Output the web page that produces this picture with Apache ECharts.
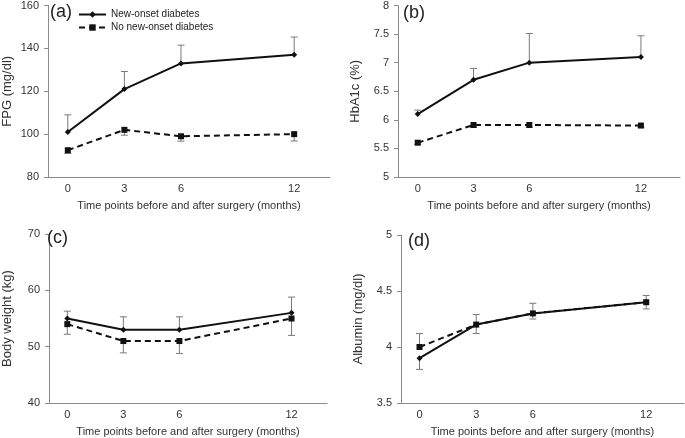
<!DOCTYPE html>
<html><head><meta charset="utf-8">
<script src="https://cdn.jsdelivr.net/npm/echarts@6/dist/echarts.min.js"></script>
<style>html,body{margin:0;padding:0;background:#fff}#c{width:685px;height:438px}</style>
</head><body><div id="c"></div><script>
// x positions (months) and tick labels
const months = [0, 3, 6, 12];
const xTickValues = [0, 3, 6, 12];
const xTitle = 'Time points before and after surgery (months)';
const seriesNames = ['New-onset diabetes', 'No new-onset diabetes'];

// (a) FPG (mg/dl)
const fpgNew = [101, 121, 133, 137];
const fpgNewErr = [109, 129.2, 141.5, 145.3];
const fpgNo = [92.5, 102, 99, 100];
const fpgNoErr = [91, 99.5, 96.7, 96.8];

// (b) HbA1c (%)
const hbNew = [6.1, 6.7, 7.0, 7.1];
const hbNewErr = [6.17, 6.9, 7.51, 7.47];
const hbNo = [5.6, 5.91, 5.91, 5.9];
const hbNoErr = [5.57, 5.87, 5.87, 5.87];

// (c) Body weight (kg)
const bwNew = [55, 53, 53, 56];
const bwNewErr = [56.3, 55.3, 55.3, 58.8];
const bwNo = [54, 51, 51, 55];
const bwNoErr = [52.2, 48.9, 48.8, 52];

// (d) Albumin (mg/dl)
const alNew = [3.9, 4.2, 4.3, 4.4];
const alNewErr = [3.8, 4.12, 4.25, 4.34];
const alNo = [4.0, 4.2, 4.3, 4.4];
const alNoErr = [4.12, 4.29, 4.39, 4.46];

const panels = [
  {label:'(a)', yName:'FPG (mg/dl)', yMin:80, yMax:160, yInt:20, xMin:-1.05, xMax:13.9,
   grid:{left:42, top:4, width:288, height:173}, nw:fpgNew, nwE:fpgNewErr, no:fpgNo, noE:fpgNoErr},
  {label:'(b)', yName:'HbA1c (%)', yMin:5, yMax:8, yInt:0.5, xMin:-1.06, xMax:14.1,
   grid:{left:398, top:5, width:282, height:172}, nw:hbNew, nwE:hbNewErr, no:hbNo, noE:hbNoErr},
  {label:'(c)', yName:'Body weight (kg)', yMin:40, yMax:70, yInt:10, xMin:-0.98, xMax:13.9,
   grid:{left:43, top:234, width:284, height:173}, nw:bwNew, nwE:bwNewErr, no:bwNo, noE:bwNoErr},
  {label:'(d)', yName:'Albumin (mg/dl)', yMin:3.5, yMax:5, yInt:0.5, xMin:-0.98, xMax:14.0,
   grid:{left:401, top:235, width:283, height:173}, nw:alNew, nwE:alNewErr, no:alNo, noE:alNoErr}
];

const FONT = 'Liberation Sans, Arial, sans-serif';
const axisGray = '#8a8a8a';
const errGray = '#7a7a7a';

function errorSeries(idx, vals, bounds) {
  return {
    type:'custom', xAxisIndex:idx, yAxisIndex:idx, z:1, silent:true,
    encode:{x:0, y:[1,2]},
    data: months.map((m,i)=>[m, vals[i], bounds[i]]),
    renderItem(params, api) {
      const x = api.value(0);
      const p1 = api.coord([x, api.value(1)]);
      const p2 = api.coord([x, api.value(2)]);
      const w = 3.5;
      const st = {stroke:errGray, lineWidth:1};
      return {type:'group', children:[
        {type:'line', shape:{x1:p1[0], y1:p1[1], x2:p2[0], y2:p2[1]}, style:st},
        {type:'line', shape:{x1:p2[0]-w, y1:p2[1], x2:p2[0]+w, y2:p2[1]}, style:st}
      ]};
    }
  };
}

const option = {
  animation:false,
  textStyle:{fontFamily:FONT},
  title: panels.map((p,i)=>({
    text:p.label, padding:0,
    left: [50, 403, 47, 408][i], top: [3, 4, 229, 232][i],
    textStyle:{fontSize:18, fontWeight:'normal', color:'#222', fontFamily:FONT}
  })),
  legend:{
    orient:'vertical', left:78, top:9, padding:0, itemWidth:27, itemHeight:8, itemGap:2,
    data:seriesNames,
    textStyle:{fontSize:10, color:'#222', lineHeight:11, fontFamily:FONT}
  },
  grid: panels.map(p=>Object.assign({containLabel:false}, p.grid)),
  xAxis: panels.map((p,i)=>({
    type:'value', gridIndex:i, min:p.xMin, max:p.xMax,
    name:xTitle, nameLocation:'middle', nameGap:23,
    nameTextStyle:{fontSize:11, color:'#333', fontFamily:FONT},
    axisLine:{onZero:false, lineStyle:{color:axisGray, width:1}},
    axisTick:{show:false},
    splitLine:{show:false},
    axisLabel:{customValues:xTickValues, fontSize:11, color:'#333', margin:6, fontFamily:FONT}
  })),
  yAxis: panels.map((p,i)=>({
    type:'value', gridIndex:i, min:p.yMin, max:p.yMax, interval:p.yInt,
    name:p.yName, nameLocation:'middle', nameGap:[34,36,35,36][i],
    nameTextStyle:{fontSize:13, color:'#333', fontFamily:FONT},
    axisLine:{show:true, onZero:false, lineStyle:{color:axisGray, width:1}},
    axisTick:{show:true, inside:false, length:4, lineStyle:{color:axisGray}},
    splitLine:{show:false},
    axisLabel:{fontSize:11, color:'#333', margin:9, fontFamily:FONT}
  })),
  series: []
};

panels.forEach((p,i)=>{
  option.series.push(errorSeries(i, p.no, p.noE));
  option.series.push(errorSeries(i, p.nw, p.nwE));
  option.series.push({
    type:'line', name:seriesNames[1], xAxisIndex:i, yAxisIndex:i, z:3,
    data: months.map((m,k)=>[m, p.no[k]]),
    symbol:'rect', symbolSize:6, showSymbol:true,
    lineStyle:{color:'#111', width:2, type:[6,4]},
    itemStyle:{color:'#111'}
  });
  option.series.push({
    type:'line', name:seriesNames[0], xAxisIndex:i, yAxisIndex:i, z:4,
    data: months.map((m,k)=>[m, p.nw[k]]),
    symbol:'diamond', symbolSize:6, showSymbol:true,
    lineStyle:{color:'#111', width:2},
    itemStyle:{color:'#111'}
  });
});

const chart = echarts.init(document.getElementById('c'), null, {renderer:'canvas'});
chart.setOption(option);
</script></body></html>
